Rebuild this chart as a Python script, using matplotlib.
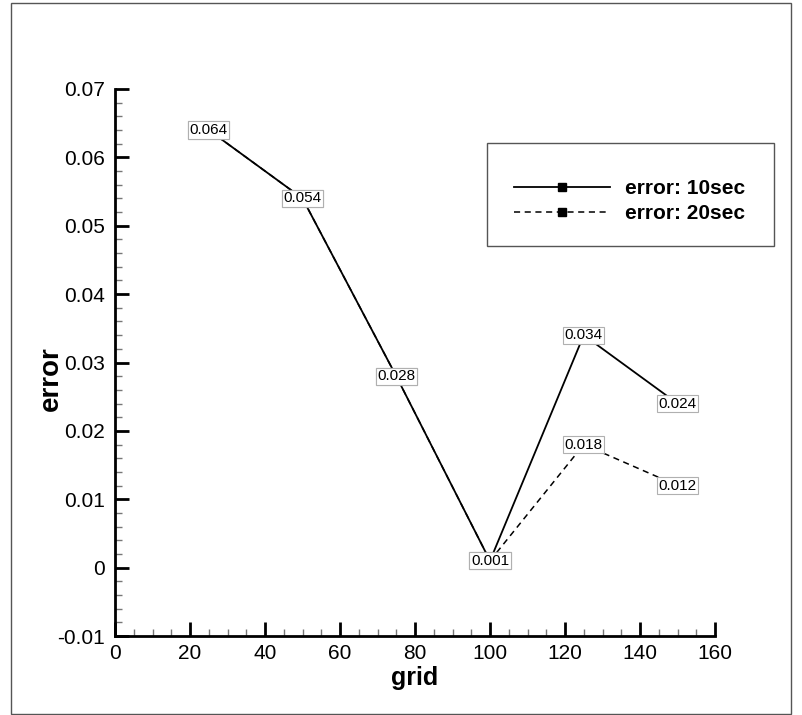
import matplotlib
matplotlib.use("Agg")
import matplotlib.pyplot as plt
from matplotlib.lines import Line2D
from matplotlib.patches import Rectangle
from matplotlib.ticker import MultipleLocator

plt.rcParams['font.family'] = ['Liberation Sans', 'DejaVu Sans']

# grid size vs. error for the two run lengths
grid = [25, 50, 75, 100, 125, 150]
err_10sec = [0.064, 0.054, 0.028, 0.001, 0.034, 0.024]
err_20sec = [0.064, 0.054, 0.028, 0.001, 0.018, 0.012]
series_names = ["error: 10sec", "error: 20sec"]

W, H = 802, 715
fig = plt.figure(figsize=(W / 100, H / 100), dpi=100)
ax = fig.add_axes([115 / W, (H - 636) / H, 600 / W, (636 - 89) / H])

ax.plot(grid, err_20sec, color="k", lw=1.1, ls=(0, (4, 3)))
ax.plot(grid, err_10sec, color="k", lw=1.3)

# value tags on each point
box = dict(boxstyle="square,pad=0.1", fc="white", ec="#b0b0b0", lw=0.8)
for xs, ys in [(grid, err_20sec), (grid, err_10sec)]:
    for x, y in zip(xs, ys):
        ax.text(x, y, f"{y:.3f}", ha="center", va="center", fontsize=11,
                bbox=box, zorder=5)

ax.set_xlim(0, 160)
ax.set_ylim(-0.01, 0.07)
ax.xaxis.set_major_locator(MultipleLocator(20))
ax.xaxis.set_minor_locator(MultipleLocator(5))
ax.yaxis.set_major_locator(MultipleLocator(0.01))
ax.yaxis.set_minor_locator(MultipleLocator(0.002))
ax.yaxis.set_major_formatter(plt.FuncFormatter(
    lambda v, p: f"{v:.2f}".rstrip("0").rstrip(".") if abs(v) > 1e-9 else "0"))

for s in ["top", "right"]:
    ax.spines[s].set_visible(False)
for s in ["left", "bottom"]:
    ax.spines[s].set_linewidth(2)

ax.tick_params(which="major", direction="in", length=10, width=2, labelsize=15)
ax.tick_params(which="minor", direction="in", length=5, width=1, color="#777777")
ax.tick_params(axis="x", which="major", pad=6)
ax.tick_params(axis="y", which="major", pad=7)

ax.set_xlabel("grid", fontsize=18, fontweight="bold", labelpad=2)
ax.set_ylabel("error", fontsize=20, fontweight="bold")
ax.yaxis.set_label_coords(-0.086, 0.47)

# legend box
fig.patches.append(Rectangle((487 / W, 1 - 246 / H), (774 - 487) / W, (246 - 143) / H,
                             transform=fig.transFigure, fill=False, ec="#555555", lw=1))
handles = [
    Line2D([], [], color="k", lw=1.3, marker="s", ms=6),
    Line2D([], [], color="k", lw=1.1, ls=(0, (4, 3)), marker="s", ms=6),
]
ax.legend(handles, series_names, loc="center left",
          bbox_to_anchor=(504 / W, 1 - 201 / H), bbox_transform=fig.transFigure,
          frameon=False, prop=dict(size=15, weight="bold"),
          handlelength=4.6, handletextpad=0.7, labelspacing=0.3, borderpad=0)

# outer frame
fig.patches.append(Rectangle((11 / W, 1 - 714 / H), (791 - 11) / W, (714 - 3) / H,
                             transform=fig.transFigure, fill=False, ec="#555555", lw=1))

fig.savefig("out.png", dpi=100)
